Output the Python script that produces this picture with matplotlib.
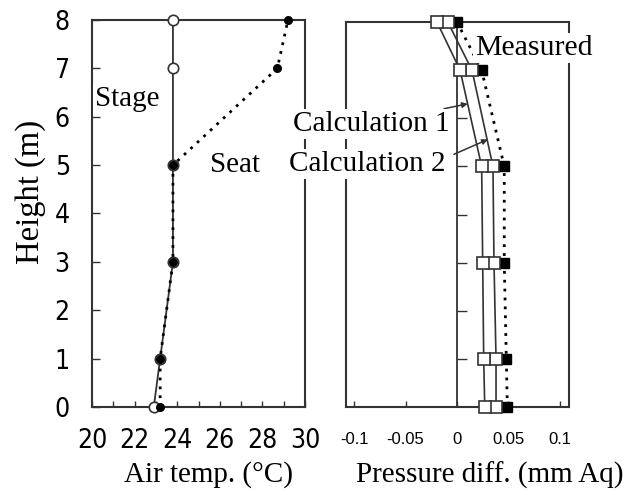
import numpy as np
import matplotlib
matplotlib.use('Agg')
import matplotlib.pyplot as plt
from matplotlib import font_manager
from matplotlib.ticker import MultipleLocator

# heights of the measuring points (m)
heights = [0, 1, 3, 5, 7, 8]

# air temperature (deg C)
stage_temp = [22.9, 23.2, 23.8, 23.8, 23.8, 23.8]
seat_temp = [23.2, 23.2, 23.8, 23.8, 28.7, 29.2]

# pressure difference (mm Aq)
calc1 = [0.027, 0.026, 0.025, 0.024, 0.003, -0.0195]
calc2 = [0.038, 0.038, 0.036, 0.035, 0.0146, -0.009]
measured = [0.049, 0.048, 0.046, 0.046, 0.024, 0.0]

temp_ticks = [20, 22, 24, 26, 28, 30]
press_ticks = [-0.1, -0.05, 0, 0.05, 0.1]
press_labels = ['-0.1', '-0.05', '0', '0.05', '0.1']
height_ticks = [0, 1, 2, 3, 4, 5, 6, 7, 8]

ink = '#333333'
serif = ['Liberation Serif', 'DejaVu Serif']
plt.rcParams['font.family'] = serif

# a condensed sans for the left panel numbers, if one is around
narrow_file = None
for f in font_manager.fontManager.ttflist:
    name = f.fname.lower()
    if ('narrow' in name or 'condensed' in name) and 'bold' not in name \
            and 'italic' not in name and 'oblique' not in name \
            and 'light' not in name and 'serif' not in name:
        narrow_file = f.fname
        break
if narrow_file:
    narrow = font_manager.FontProperties(fname=narrow_file, size=19)
else:
    narrow = font_manager.FontProperties(family='Liberation Sans', size=16)

fig = plt.figure(figsize=(6.34, 4.95), dpi=100)
ax1 = fig.add_axes([92/634, 1-407/495, 213/634, 387/495])
ax2 = fig.add_axes([346/634, 1-407/495, 223/634, 385/495])

# ---- left panel: air temperature
ax1.plot(stage_temp, heights, '-', color=ink, lw=1.3, marker='o', ms=7.5,
         mfc='white', mec=ink, mew=1.2, clip_on=False, zorder=3)
ax1.plot(seat_temp, heights, color='black', lw=2.0, ls=(0, (1, 2.2)),
         marker='o', ms=5.5, mfc='black', mec='black', clip_on=False,
         zorder=4)
ax1.set_xlim(20, 30)
ax1.set_ylim(0, 8)
ax1.set_xticks(temp_ticks)
ax1.xaxis.set_minor_locator(MultipleLocator(1))
ax1.set_yticks(height_ticks)
ax1.tick_params(axis='x', which='both', direction='in', length=4, width=1,
                color=ink, pad=15)
ax1.tick_params(axis='y', direction='in', length=6, width=1, color=ink,
                pad=16)
for lab in ax1.get_xticklabels() + ax1.get_yticklabels():
    lab.set_fontproperties(narrow)
for s in ['left', 'bottom', 'top', 'right']:
    ax1.spines[s].set_color(ink)
    ax1.spines[s].set_linewidth(1.5)
ax1.spines['right'].set_zorder(1)
box = dict(facecolor='white', edgecolor='none', pad=1.5)
ax1.text(20.12, 6.22, 'Stage', fontsize=21, ha='left', va='baseline',
         bbox=box, zorder=6)
ax1.text(25.55, 4.86, 'Seat', fontsize=21, ha='left', va='baseline',
         bbox=box, zorder=6)

# ---- right panel: pressure difference
ax2.plot(measured, heights, color='black', lw=2.0, ls=(0, (1, 2.2)),
         marker='s', ms=7, mfc='black', mec='black', clip_on=False, zorder=3)
ax2.plot(calc2, heights, '-', color=ink, lw=1.2, marker='s', ms=8.5,
         mfc='white', mec=ink, mew=1.2, clip_on=False, zorder=4)
ax2.plot(calc1, heights, '-', color=ink, lw=1.2, marker='s', ms=8.5,
         mfc='white', mec=ink, mew=1.2, clip_on=False, zorder=5)
ax2.set_xlim(-0.108, 0.109)
ax2.set_ylim(0, 8)
ax2.set_xticks(press_ticks)
ax2.set_xticklabels(press_labels, family=['Liberation Sans', 'DejaVu Sans'])
ax2.set_yticks(height_ticks[1:-1])
ax2.set_yticklabels([])
ax2.spines['left'].set_position(('data', 0))
ax2.tick_params(axis='x', direction='in', length=4, width=1, color=ink,
                pad=18, labelsize=12)
ax2.tick_params(axis='y', direction='in', length=7, width=1, color=ink)
for s in ['left', 'bottom', 'top', 'right']:
    ax2.spines[s].set_color(ink)
    ax2.spines[s].set_linewidth(1.5)
ax2.spines['left'].set_linewidth(1.3)
# outer left border of the box
ax2.plot([0, 0], [0, 1], transform=ax2.transAxes, color=ink, lw=1.5,
         clip_on=False, zorder=2.5)

ax2.text(0.0175, 7.32, 'Measured', fontsize=21.5, ha='left', va='baseline',
         bbox=box, zorder=6)
arrow = dict(arrowstyle='-|>', color=ink, lw=1.1, mutation_scale=8,
             shrinkA=0, shrinkB=0)
ax2.annotate('Calculation 1', xy=(0.0105, 6.3), xytext=(-0.0075, 5.74),
             fontsize=21, ha='right', va='baseline', bbox=box, zorder=6,
             arrowprops=arrow, annotation_clip=False)
ax2.annotate('', xy=(0.030, 5.56), xytext=(-0.003, 5.25),
             arrowprops=arrow, annotation_clip=False, zorder=6)
ax2.text(-0.0115, 4.9, 'Calculation 2', fontsize=21, ha='right',
         va='baseline', bbox=box, zorder=6)

# ---- axis labels
fig.text(31/634, 1-192/495, 'Height (m)', fontsize=23.5, rotation=90,
         ha='center', va='center')
fig.text(209/634, 1-475/495, 'Air temp. (\u00b0C)', fontsize=21,
         ha='center', va='center')
fig.text(490/634, 1-475/495, 'Pressure diff. (mm Aq)', fontsize=21,
         ha='center', va='center')

fig.savefig('out.png', dpi=100)
